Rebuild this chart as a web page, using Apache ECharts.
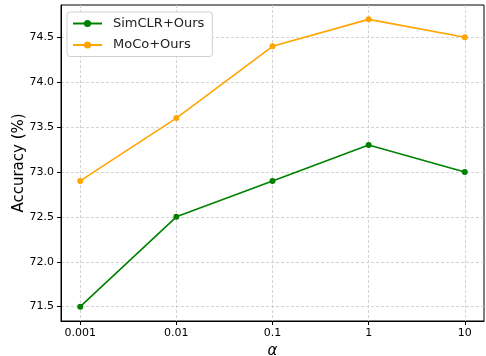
<!DOCTYPE html>
<html>
<head>
<meta charset="utf-8">
<script src="https://cdn.jsdelivr.net/npm/echarts@6/dist/echarts.min.js"></script>
<style>html,body{margin:0;padding:0;background:#fff;}#c{width:486px;height:356px;}</style>
</head>
<body>
<div id="c"></div>
<script>
const categories = ['0.001', '0.01', '0.1', '1', '10'];
const simclr = [71.5, 72.5, 72.9, 73.3, 73.0];
const moco = [72.9, 73.6, 74.4, 74.7, 74.5];
const yTicks = [71.5, 72.0, 72.5, 73.0, 73.5, 74.0, 74.5];

const xIdx = categories.map((c, i) => i);
const font = 'DejaVu Sans';
const gridLine = { show: true, lineStyle: { color: '#c8c8c8', type: [3, 2], width: 0.8 } };

const chart = echarts.init(document.getElementById('c'), null, { renderer: 'canvas' });
chart.setOption({
  animation: false,
  backgroundColor: '#fff',
  grid: { left: 61, right: 2, top: 5, bottom: 35, show: true, borderColor: '#000', borderWidth: 1,
    containLabel: false, outerBoundsMode: 'none' },
  legend: {
    orient: 'vertical', left: 67, top: 12,
    itemWidth: 29, itemHeight: 9, itemGap: 8.5,
    padding: [5, 8, 5, 5],
    backgroundColor: '#fff', borderColor: '#d0d0d0', borderWidth: 1, borderRadius: 3,
    textStyle: { fontFamily: font, fontSize: 13, color: '#222', padding: [0, 0, 0, 6] },
    data: ['SimCLR+Ours', 'MoCo+Ours']
  },
  xAxis: {
    type: 'value', min: -0.2, max: 4.2,
    name: 'α', nameLocation: 'middle', nameGap: 20,
    nameTextStyle: { fontFamily: font, fontSize: 15, fontStyle: 'italic', color: '#000' },
    axisLine: { show: true, onZero: false, lineStyle: { color: '#000', width: 1 } },
    axisTick: { show: true, length: 4, lineStyle: { color: '#000' }, customValues: xIdx },
    axisLabel: { fontFamily: font, fontSize: 11, color: '#000', margin: 7, customValues: xIdx,
      formatter: v => categories[Math.round(v)] },
    splitLine: gridLine
  },
  yAxis: {
    type: 'value', min: 71.34, max: 74.86,
    name: 'Accuracy (%)', nameLocation: 'middle', nameGap: 34, nameMoveOverlap: false,
    nameTextStyle: { fontFamily: font, fontSize: 15, color: '#000' },
    axisLine: { show: true, onZero: false, lineStyle: { color: '#000', width: 1 } },
    axisTick: { show: true, length: 4, lineStyle: { color: '#000' }, customValues: yTicks },
    axisLabel: { fontFamily: font, fontSize: 11, color: '#000', margin: 7, customValues: yTicks,
      formatter: v => v.toFixed(1) },
    splitLine: gridLine
  },
  series: [
    { name: 'SimCLR+Ours', type: 'line', data: simclr.map((v, i) => [xIdx[i], v]),
      color: '#008000', symbol: 'circle', symbolSize: 6, lineStyle: { width: 1.6 } },
    { name: 'MoCo+Ours', type: 'line', data: moco.map((v, i) => [xIdx[i], v]),
      color: '#FFA500', symbol: 'circle', symbolSize: 6, lineStyle: { width: 1.6 } }
  ]
});
</script>
</body>
</html>
